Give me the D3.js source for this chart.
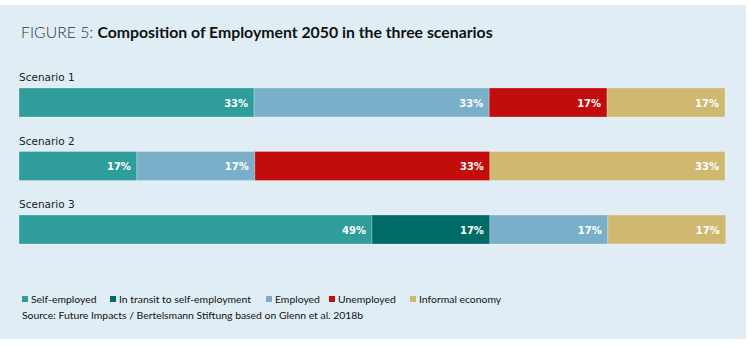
<!DOCTYPE html>
<html>
<head>
<meta charset="utf-8">
<script src="https://cdn.jsdelivr.net/npm/d3@7"></script>
<style>
  body { margin: 0; background: #fff; }
  svg { display: block; }
</style>
</head>
<body>
<svg id="chart"></svg>
<script>
var width = 749,
    height = 347;

// data
var scenarios = ["Scenario 1", "Scenario 2", "Scenario 3"];
var categories = ["Self-employed", "In transit to self-employment", "Employed", "Unemployed", "Informal economy"];
var colors = ["#2f9e9b", "#006b66", "#7aafca", "#c20d0d", "#cfb870"];
// shares per scenario, in category order
var selfEmployed = [33.3, 16.7, 50];
var inTransit = [0, 0, 16.7];
var employed = [33.3, 16.7, 16.7];
var unemployed = [16.7, 33.3, 0];
var informal = [16.7, 33.3, 16.7];
// printed labels
var labelSelf = ["33%", "17%", "49%"];
var labelTransit = ["", "", "17%"];
var labelEmployed = ["33%", "17%", "17%"];
var labelUnemployed = ["17%", "33%", ""];
var labelInformal = ["17%", "33%", "17%"];

var series = [selfEmployed, inTransit, employed, unemployed, informal];
var labels = [labelSelf, labelTransit, labelEmployed, labelUnemployed, labelInformal];

var rows = scenarios.map(function (s, i) {
    var row = { scenario: s };
    categories.forEach(function (c, j) { row[c] = series[j][i]; });
    return row;
});

var stacked = d3.stack().keys(categories)(rows);

var svg = d3.select("#chart")
    .attr("width", width)
    .attr("height", height);

svg.append("rect")
    .attr("x", 0).attr("y", 5)
    .attr("width", 746).attr("height", 334)
    .attr("fill", "#e1edf5");

var title = svg.append("text")
    .attr("x", 21).attr("y", 38)
    .style("font-family", "Lato, 'Open Sans', sans-serif")
    .style("font-size", "15.8px");
title.append("tspan").attr("fill", "#333").style("font-weight", 300).text("FIGURE 5: ");
title.append("tspan").attr("fill", "#111").style("font-weight", 700).text("Composition of Employment 2050 in the three scenarios");

var x = d3.scaleLinear().domain([0, 100]).range([19, 725]);
var y = d3.scalePoint().domain(scenarios).range([88, 215]);
var barH = 29;

var g = svg.append("g");

g.selectAll(".scen")
    .data(scenarios)
    .enter().append("text")
    .attr("x", 19)
    .attr("y", function (d) { return y(d) - 7; })
    .attr("fill", "#222")
    .style("font-family", "'DejaVu Sans', Verdana, sans-serif")
    .style("font-size", "10.5px")
    .text(function (d) { return d.replace(" ", "\u00a0"); });

var layer = g.selectAll(".layer")
    .data(stacked)
    .enter().append("g")
    .attr("fill", function (d, i) { return colors[i]; });

layer.selectAll("rect")
    .data(function (d) { return d; })
    .enter().append("rect")
    .filter(function (d) { return d[1] - d[0] > 0; })
    .attr("x", function (d) { return x(d[0]); })
    .attr("y", function (d) { return y(d.data.scenario); })
    .attr("width", function (d) { return x(d[1]) - x(d[0]); })
    .attr("height", barH)
    .attr("stroke", "#fff")
    .attr("stroke-opacity", 0.25)
    .attr("stroke-width", 1);

layer.each(function (d, j) {
    d3.select(this).selectAll("text")
        .data(d)
        .enter().append("text")
        .filter(function (p, i) { return labels[j][i] !== ""; })
        .attr("x", function (p) { return x(p[1]) - 6; })
        .attr("y", function (p) { return y(p.data.scenario) + barH / 2 + 4; })
        .attr("text-anchor", "end")
        .attr("fill", "#fff")
        .style("font-family", "'DejaVu Sans', Verdana, sans-serif")
        .style("font-weight", "bold")
        .style("font-size", "10px")
        .text(function (p, i) { return labels[j][scenarios.indexOf(p.data.scenario)]; });
});

// legend
var legendX = [22, 110, 266, 329, 410];
var legend = svg.append("g").selectAll("g")
    .data(categories)
    .enter().append("g")
    .attr("transform", function (d, i) { return "translate(" + legendX[i] + ",296)"; });

legend.append("rect")
    .attr("width", 6).attr("height", 6)
    .attr("fill", function (d, i) { return colors[i]; });

legend.append("text")
    .attr("x", 9).attr("y", 7)
    .attr("fill", "#111")
    .style("font-family", "Lato, sans-serif")
    .style("font-size", "10.4px")
    .text(function (d) { return d; });

svg.append("text")
    .attr("x", 22).attr("y", 319)
    .attr("fill", "#111")
    .style("font-family", "Lato, sans-serif")
    .style("font-size", "10.4px")
    .text("Source: Future Impacts / Bertelsmann Stiftung based on Glenn et al. 2018b");
</script>
</body>
</html>
